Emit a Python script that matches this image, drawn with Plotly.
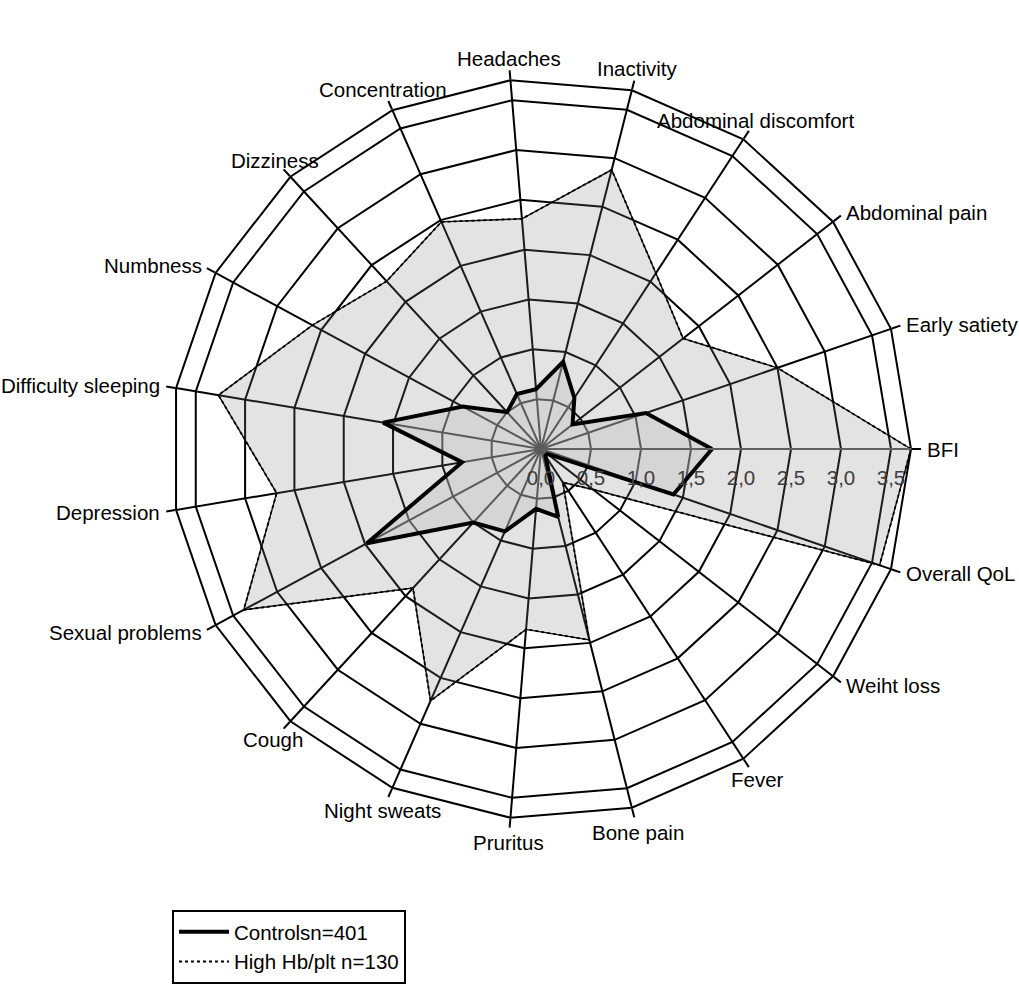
import math
import plotly.graph_objects as go

categories = ["BFI", "Early satiety", "Abdominal pain", "Abdominal discomfort", "Inactivity",
              "Headaches", "Concentration", "Dizziness", "Numbness", "Difficulty sleeping",
              "Depression", "Sexual problems", "Cough", "Night sweats", "Pruritus",
              "Bone pain", "Fever", "Weiht loss", "Overall QoL"]

high_hb = [3.70, 2.50, 1.80, 2.10, 2.88, 2.31, 2.48, 2.28, 2.60, 3.27,
           2.68, 3.38, 1.89, 2.75, 1.81, 1.97, 0.40, 0.66, 3.58]

controls = [1.71, 1.11, 0.40, 0.61, 0.90, 0.60, 0.60, 0.50, 0.89, 1.60,
            0.80, 1.98, 1.00, 0.90, 0.60, 0.70, 0.08, 0.08, 1.40]

series_names = ["Controlsn=401", "High Hb/plt n=130"]

R_MAX = 3.7

W, H = 1019, 996
CX, CY, RAD = 541, 547, 370  # polar centre (px from left / bottom) and radius


def closed(vals):
    return list(vals) + [vals[0]]


theta = closed(categories)
FONT = "Liberation Sans, Arial, sans-serif"
FS = 20.5

fig = go.Figure()

# High Hb/plt filled area with thin border
fig.add_trace(go.Scatterpolar(
    r=closed(high_hb), theta=theta, mode="lines", fill="toself",
    fillcolor="rgba(128,128,128,0.22)",
    line=dict(color="#111111", width=1.4), showlegend=False, hoverinfo="skip"))
# High Hb/plt dotted line (legend)
fig.add_trace(go.Scatterpolar(
    r=closed(high_hb), theta=theta, mode="lines", name=series_names[1],
    line=dict(color="black", width=1.8, dash="dot"), showlegend=True))
# Controls fill
fig.add_trace(go.Scatterpolar(
    r=closed(controls), theta=theta, mode="lines", fill="toself",
    fillcolor="rgba(192,192,192,0.38)",
    line=dict(width=0), showlegend=False, hoverinfo="skip"))
# Controls line
fig.add_trace(go.Scatterpolar(
    r=closed(controls), theta=theta, mode="lines", name=series_names[0],
    line=dict(color="black", width=4), showlegend=True))

# Category labels (Excel style: centred near vertical, side-anchored otherwise)
n = len(categories)
for i, cat in enumerate(categories):
    ang = math.radians(360.0 * i / n)
    c, s = math.cos(ang), math.sin(ang)
    if abs(c) < 0.70:
        rr = RAD * (1.06 if s > 0 else 1.068)
        xa = "center"
    else:
        rr = RAD * 1.04
        xa = "left" if c > 0 else "right"
    fig.add_annotation(
        x=(CX + rr * c) / W, y=(CY + rr * s) / H, xref="paper", yref="paper",
        text=cat, showarrow=False, xanchor=xa, yanchor="middle",
        font=dict(family=FONT, size=FS, color="black"), borderpad=0)

fig.update_layout(
    width=W, height=H,
    margin=dict(l=0, r=0, t=0, b=0),
    paper_bgcolor="white",
    separators=",.",
    font=dict(family=FONT, size=FS, color="black"),
    polar=dict(
        domain=dict(x=[(CX - RAD) / W, (CX + RAD) / W],
                    y=[(CY - RAD) / H, (CY + RAD) / H]),
        bgcolor="white",
        gridshape="linear",
        angularaxis=dict(
            direction="counterclockwise", rotation=0,
            showline=True, linecolor="black", linewidth=2,
            gridcolor="black", gridwidth=2,
            ticks="outside", ticklen=9, tickcolor="black", tickwidth=1.5,
            showticklabels=False,
        ),
        radialaxis=dict(
            range=[0, R_MAX], dtick=0.5, tick0=0, tickformat=".1f",
            angle=0, showline=True, linecolor="#606060", linewidth=2,
            gridcolor="black", gridwidth=2,
            ticks="outside", ticklen=10, tickcolor="rgba(0,0,0,0)",
            tickfont=dict(family=FONT, size=FS, color="#404040"),
        ),
    ),
    legend=dict(
        x=172 / W, y=(996 - 910) / H, xanchor="left", yanchor="top",
        bordercolor="black", borderwidth=2, bgcolor="white",
        font=dict(family=FONT, size=FS, color="black"),
        traceorder="reversed", itemwidth=50,
    ),
)

fig.write_html("out.html")
